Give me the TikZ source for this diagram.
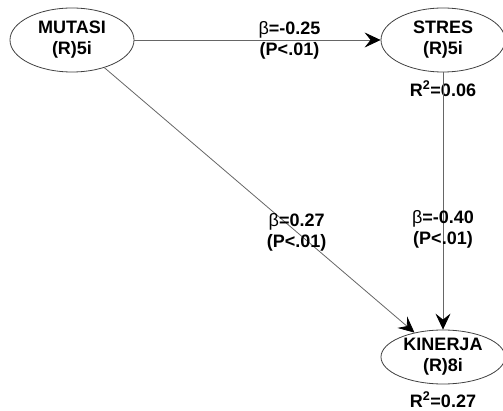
\documentclass[tikz,border=0pt]{standalone}
\usepackage{fontspec}
\setmainfont{Liberation Sans}
\usetikzlibrary{shapes, arrows.meta, positioning}

\begin{document}
\begin{tikzpicture}[
    x=1pt, y=-1pt,
    line width=0.8pt,
    >={Stealth[length=16pt, width=15pt, inset=6pt, color=black]},
    every node/.style={font=\fontsize{18}{21}\selectfont\bfseries, align=center},
    construct/.style={draw=black!75, ellipse, minimum width=124pt, minimum height=64pt, inner sep=0pt},
    link/.style={->, draw=black!60},
    coef/.style={inner sep=1pt}
]
\useasboundingbox (0,0) rectangle (503,411);
\node[construct] (mutasi) at (72,40) {MUTASI\\(R)5i};
\node[construct] (stres) at (443,40) {STRES\\(R)5i};
\node[construct, minimum height=54pt] (kinerja) at (443,357) {KINERJA\\(R)8i};
\node[below=5pt of stres] (rstres) {R\textsuperscript{2}=0.06};
\node[below=4pt of kinerja] (rkinerja) {R\textsuperscript{2}=0.27};
\draw[link] (mutasi) -- node[coef, pos=0.63] {{\mdseries β}=-0.25\\(P<.01)} (stres);
\draw[link] (mutasi) -- node[coef, pos=0.62] {{\mdseries β}=0.27\\(P<.01)} (kinerja);
\draw[link] (stres) -- node[coef, pos=0.61] {{\mdseries β}=-0.40\\(P<.01)} (kinerja);
\end{tikzpicture}
\end{document}
